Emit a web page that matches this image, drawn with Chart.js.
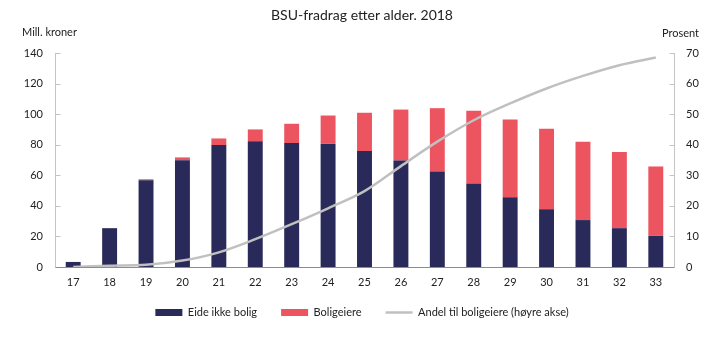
<!DOCTYPE html>
<html>
<head>
<meta charset="utf-8">
<script src="https://cdn.jsdelivr.net/npm/chart.js@4/dist/chart.umd.min.js"></script>
<style>
    html, body { margin: 0; padding: 0; background: #fff; }
    #wrap { width: 724px; height: 341px; position: relative; }
</style>
</head>
<body>
<div id="wrap"><canvas id="bsuChart"></canvas></div>
<script>
// Data
const ages = ['17', '18', '19', '20', '21', '22', '23', '24', '25', '26', '27', '28', '29', '30', '31', '32', '33'];
const eideIkkeBolig = [3.3, 25.4, 56.7, 69.8, 79.8, 82.2, 81.1, 80.7, 75.9, 69.6, 62.4, 54.6, 45.7, 37.8, 30.7, 25.4, 20.4];
const boligeiere = [0, 0, 0.7, 1.9, 4.3, 7.8, 12.6, 18.4, 25.0, 33.4, 41.5, 47.6, 50.8, 52.6, 51.3, 49.8, 45.3];
const andelBoligeiere = [0, 0.4, 0.7, 2.1, 4.8, 9.1, 14.0, 19.2, 24.8, 33.0, 41.0, 48.0, 53.5, 58.4, 62.5, 66.0, 68.5];
const leftTicks = [0, 20, 40, 60, 80, 100, 120, 140];
const rightTicks = [0, 10, 20, 30, 40, 50, 60, 70];

const FONT = 'Lato, "Open Sans", sans-serif';
const NAVY = '#29295a';
const RED = '#ec5560';
const GREY_LINE = '#c0c0c0';
const AXIS_LIGHT = '#c4c4c4';
const AXIS_DARK = '#8c8c8c';

// Title, axis captions and inward tick marks
const decorations = {
    id: 'decorations',
    afterLayout(chart) {
        // pull the legend a bit closer to the x axis labels
        if (chart.legend) {
            chart.legend.top -= 13;
            chart.legend.bottom -= 13;
        }
    },
    afterDraw(chart) {
        const ctx = chart.ctx;
        const y = chart.scales.y;
        const y1 = chart.scales.y1;
        const x = chart.scales.x;
        ctx.save();
        ctx.fillStyle = '#222';
        ctx.textBaseline = 'middle';
        ctx.font = '14px ' + FONT;
        ctx.textAlign = 'center';
        ctx.fillText('BSU-fradrag etter alder. 2018', chart.width / 2, 15);
        ctx.font = '11px ' + FONT;
        ctx.textAlign = 'left';
        ctx.fillText('Mill. kroner', 22, 32);
        ctx.textAlign = 'right';
        ctx.fillText('Prosent', 699, 33);

        ctx.lineWidth = 1;
        ctx.strokeStyle = AXIS_LIGHT;
        ctx.beginPath();
        const lx = Math.round(x.left) + 0.5;
        const rx = Math.round(x.right) + 0.5;
        ctx.moveTo(lx, y.top);
        ctx.lineTo(lx, y.bottom);
        ctx.moveTo(rx, y.top);
        ctx.lineTo(rx, y.bottom);
        leftTicks.forEach(v => {
            const py = Math.round(y.getPixelForValue(v)) + 0.5;
            ctx.moveTo(lx, py);
            ctx.lineTo(lx + 5, py);
        });
        rightTicks.forEach(v => {
            const py = Math.round(y1.getPixelForValue(v)) + 0.5;
            ctx.moveTo(rx, py);
            ctx.lineTo(rx - 5, py);
        });
        ctx.stroke();

        ctx.strokeStyle = AXIS_DARK;
        ctx.beginPath();
        const by = Math.round(y.bottom) + 0.5;
        ctx.moveTo(lx, by);
        ctx.lineTo(rx, by);
        ctx.stroke();
        ctx.restore();
    }
};

const ctx = document.getElementById('bsuChart');
new Chart(ctx, {
    data: {
        labels: ages,
        datasets: [
            {
                type: 'bar',
                label: 'Eide ikke bolig',
                data: eideIkkeBolig,
                backgroundColor: NAVY,
                borderWidth: 0,
                yAxisID: 'y',
                stack: 'bsu',
                order: 1,
                barPercentage: 0.41,
                categoryPercentage: 1
            },
            {
                type: 'bar',
                label: 'Boligeiere',
                data: boligeiere,
                backgroundColor: RED,
                borderWidth: 0,
                yAxisID: 'y',
                stack: 'bsu',
                order: 1,
                barPercentage: 0.41,
                categoryPercentage: 1
            },
            {
                type: 'line',
                label: 'Andel til boligeiere (høyre akse)',
                data: andelBoligeiere,
                borderColor: GREY_LINE,
                backgroundColor: GREY_LINE,
                borderWidth: 2.5,
                pointRadius: 0,
                cubicInterpolationMode: 'monotone',
                yAxisID: 'y1',
                order: 0
            }
        ]
    },
    options: {
        responsive: true,
        maintainAspectRatio: false,
        animation: false,
        layout: { padding: { top: 53, left: 0, right: 0, bottom: 0 } },
        plugins: {
            tooltip: { enabled: false },
            title: { display: false },
            legend: {
                position: 'bottom',
                labels: {
                    color: '#222',
                    font: { family: FONT, size: 11 },
                    usePointStyle: true,
                    pointStyleWidth: 27,
                    boxHeight: 7,
                    padding: 24,
                    sort: (a, b) => a.datasetIndex - b.datasetIndex,
                    generateLabels(chart) {
                        const items = Chart.defaults.plugins.legend.labels.generateLabels(chart);
                        items.forEach(item => {
                            const ds = chart.data.datasets[item.datasetIndex];
                            if (ds.type === 'line') {
                                item.pointStyle = 'line';
                                item.lineWidth = 2.5;
                                item.strokeStyle = GREY_LINE;
                            } else {
                                item.pointStyle = 'rect';
                                item.lineWidth = 0;
                            }
                        });
                        return items;
                    }
                }
            }
        },
        scales: {
            x: {
                stacked: true,
                offset: true,
                grid: { display: false, drawTicks: false },
                border: { display: false },
                ticks: { color: '#222', font: { family: FONT, size: 11 }, padding: 9, maxRotation: 0 },
                afterFit(scale) { scale.height = 29; }
            },
            y: {
                position: 'left',
                stacked: true,
                min: 0,
                max: 140,
                grid: { display: false, drawTicks: false },
                border: { display: false },
                ticks: { stepSize: 20, color: '#222', font: { family: FONT, size: 11 }, padding: 12 },
                afterFit(scale) { scale.width = 55; }
            },
            y1: {
                position: 'right',
                min: 0,
                max: 70,
                grid: { display: false, drawTicks: false },
                border: { display: false },
                ticks: { stepSize: 10, color: '#222', font: { family: FONT, size: 11 }, padding: 12 },
                afterFit(scale) { scale.width = 50; }
            }
        }
    },
    plugins: [decorations]
});
</script>
</body>
</html>
